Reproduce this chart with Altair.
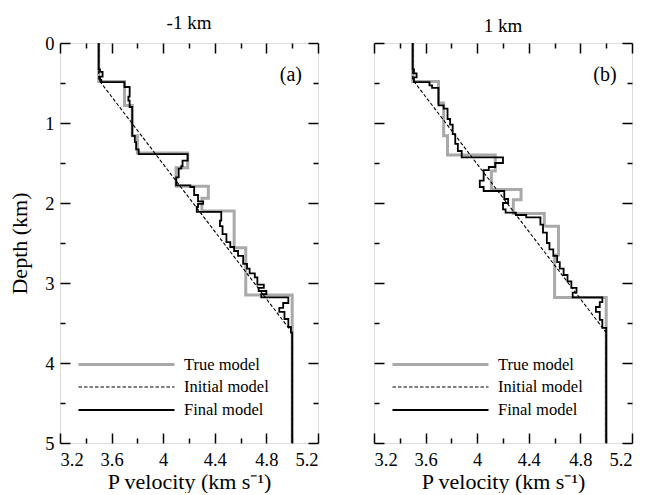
import altair as alt
import pandas as pd

TITLES = ["-1 km", "1 km"]
PANEL_LABELS = ["(a)", "(b)"]
MODELS = ["True model", "Initial model", "Final model"]

X_MAJOR = [3.2, 3.6, 4.0, 4.4, 4.8, 5.2]
X_MINOR = [3.4, 3.8, 4.2, 4.6, 5.0]
Y_MAJOR = [0, 1, 2, 3, 4, 5]
Y_MINOR = [0.5, 1.5, 2.5, 3.5, 4.5]

# True model (layer tops in km, velocity in km/s)
TRUE_A_TOP = [0.0, 0.48, 0.78, 1.16, 1.375, 1.56, 1.79, 1.94, 2.10, 2.56, 3.15]
TRUE_A_VEL = [3.50, 3.70, 3.76, 3.80, 4.19, 4.10, 4.35, 4.30, 4.55, 4.64, 5.00]
TRUE_B_TOP = [0.0, 0.48, 0.75, 1.16, 1.40, 1.60, 1.83, 1.96, 2.13, 2.29, 2.65, 3.18]
TRUE_B_VEL = [3.50, 3.70, 3.74, 3.77, 4.14, 4.11, 4.34, 4.28, 4.52, 4.63, 4.60, 5.00]

# Initial model (linear gradient)
INIT_DEPTH = [0.0, 0.46, 3.62, 5.0]
INIT_VEL = [3.50, 3.50, 5.00, 5.00]

# Final (inverted) model
FINAL_A_TOP = [0.00, 0.33, 0.36, 0.42, 0.46, 0.49, 0.55, 0.67, 0.72, 0.80, 1.16, 1.24,
               1.33, 1.39, 1.47, 1.54, 1.57, 1.68, 1.78, 1.80, 1.90, 1.98, 2.01, 2.05,
               2.11, 2.22, 2.29, 2.39, 2.49, 2.55, 2.60, 2.66, 2.76, 2.82, 2.88, 2.93,
               3.02, 3.06, 3.10, 3.14, 3.18, 3.25, 3.31, 3.36, 3.45, 3.55, 3.62]
FINAL_A_VEL = [3.50, 3.51, 3.53, 3.51, 3.52, 3.70, 3.74, 3.73, 3.74, 3.76, 3.78, 3.79,
               3.81, 4.19, 4.15, 4.14, 4.12, 4.10, 4.21, 4.24, 4.27, 4.31, 4.27, 4.26,
               4.45, 4.44, 4.46, 4.49, 4.52, 4.55, 4.58, 4.62, 4.65, 4.67, 4.71, 4.73,
               4.78, 4.74, 4.80, 4.76, 4.97, 4.93, 4.90, 4.94, 4.97, 4.99, 5.00]
FINAL_B_TOP = [0.00, 0.33, 0.38, 0.43, 0.49, 0.53, 0.56, 0.78, 0.82, 0.95, 1.02, 1.14,
               1.26, 1.35, 1.43, 1.50, 1.55, 1.59, 1.72, 1.80, 1.85, 1.95, 2.00, 2.08,
               2.12, 2.15, 2.18, 2.27, 2.37, 2.50, 2.58, 2.66, 2.74, 2.82, 2.90, 2.98,
               3.06, 3.12, 3.18, 3.24, 3.30, 3.36, 3.46, 3.56]
FINAL_B_VEL = [3.50, 3.51, 3.53, 3.51, 3.63, 3.65, 3.70, 3.74, 3.77, 3.79, 3.81, 3.83,
               3.85, 3.88, 4.20, 4.14, 4.09, 4.05, 4.02, 4.05, 4.21, 4.24, 4.20, 4.22,
               4.30, 4.38, 4.49, 4.51, 4.54, 4.56, 4.59, 4.62, 4.64, 4.67, 4.70, 4.73,
               4.77, 4.74, 4.97, 4.95, 4.92, 4.95, 4.97, 5.00]

FONT = "Liberation Serif, serif"


def step_frame(tops, vels, model, bottom=5.0):
    rows = []
    k = 0
    for i, (t, v) in enumerate(zip(tops, vels)):
        b = tops[i + 1] if i + 1 < len(tops) else bottom
        rows.append({"depth": t, "vel": v, "model": model, "k": k}); k += 1
        rows.append({"depth": b, "vel": v, "model": model, "k": k}); k += 1
    return pd.DataFrame(rows)


def line_frame(depths, vels, model):
    return pd.DataFrame({"depth": depths, "vel": vels, "model": model,
                         "k": list(range(len(depths)))})


X_SCALE = alt.Scale(domain=[3.2, 5.2], nice=False, zero=False)
Y_SCALE = alt.Scale(domain=[0, 5], reverse=True, nice=False, zero=False)


def make_axis(orient, values, major, labels, title=None):
    kw = dict(orient=orient, values=values,
              tickSize=alt.ExprRef(expr="-10" if major else "-5"),
              ticks=True, labels=labels, domain=False, grid=False,
              tickColor="black", tickWidth=1.5, title=title,
              labelFont=FONT, titleFont=FONT, labelFontSize=18.5, titleFontSize=22,
              titleFontWeight="normal", labelColor="black", titleColor="black")
    if labels:
        if orient in ("bottom", "top"):
            kw["format"] = ".1~f"
            kw["labelPadding"] = 17
            kw["titlePadding"] = 3
        else:
            kw["format"] = "d"
            kw["labelPadding"] = 16
            kw["titlePadding"] = 13
    return alt.Axis(**kw)


def panel(idx, true_df, final_df):
    left = idx == 0
    legend = alt.Legend(orient="none", legendX=55, legendY=310, title=None,
                        symbolType="M-5,0H5", symbolSize=369, labelOffset=46,
                        labelFontSize=16.5, labelFont=FONT, rowPadding=3.5, padding=0,
                        labelColor="black")
    color = alt.Color("model:N", scale=alt.Scale(domain=MODELS, range=["#a9a9a9", "black", "black"]),
                      legend=legend)
    dash = alt.StrokeDash("model:N", scale=alt.Scale(domain=MODELS, range=[[1, 0], [3.5, 2], [1, 0]]),
                          legend=legend)
    width = alt.StrokeWidth("model:N",
                            scale=alt.Scale(type="ordinal", domain=MODELS, range=[3.0, 1.1, 1.8]),
                            legend=legend)
    init_df = line_frame(INIT_DEPTH, INIT_VEL, MODELS[1])

    l_true = alt.Chart(true_df).mark_line(strokeCap="butt", strokeJoin="miter").encode(
        x=alt.X("vel:Q", scale=X_SCALE,
                axis=make_axis("bottom", X_MAJOR, True, True, "P velocity (km s\u207b\u00b9)")),
        y=alt.Y("depth:Q", scale=Y_SCALE,
                axis=make_axis("left", Y_MAJOR, True, left, "Depth (km)" if left else None)),
        order="k:Q", color=color, strokeDash=dash, strokeWidth=width,
    )
    l_init = alt.Chart(init_df).mark_line().encode(
        x=alt.X("vel:Q", scale=X_SCALE, axis=make_axis("bottom", X_MINOR, False, False)),
        y=alt.Y("depth:Q", scale=Y_SCALE, axis=make_axis("left", Y_MINOR, False, False)),
        order="k:Q", color=color, strokeDash=dash, strokeWidth=width,
    )
    l_final = alt.Chart(final_df).mark_line(strokeJoin="miter").encode(
        x=alt.X("vel:Q", scale=X_SCALE, axis=make_axis("top", X_MAJOR, True, False)),
        y=alt.Y("depth:Q", scale=Y_SCALE, axis=make_axis("right", Y_MAJOR, True, False)),
        order="k:Q", color=color, strokeDash=dash, strokeWidth=width,
    )
    l_text = alt.Chart(pd.DataFrame({"label": [PANEL_LABELS[idx]]})).mark_text(
        font=FONT, fontSize=20, align="center", baseline="middle", color="black"
    ).encode(
        x=alt.X(datum=4.99, type="quantitative", scale=X_SCALE,
                axis=make_axis("top", X_MINOR, False, False)),
        y=alt.Y(datum=0.40, type="quantitative", scale=Y_SCALE,
                axis=make_axis("right", Y_MINOR, False, False)),
        text="label:N",
    )
    return alt.layer(l_true, l_init, l_final, l_text).resolve_axis(
        x="independent", y="independent"
    ).properties(
        width=258, height=400,
        title=alt.Title(TITLES[idx], font=FONT, fontSize=19, fontWeight="normal",
                        color="black", offset=1),
    )


true_a = step_frame(TRUE_A_TOP, TRUE_A_VEL, MODELS[0])
true_b = step_frame(TRUE_B_TOP, TRUE_B_VEL, MODELS[0])
final_a = step_frame(FINAL_A_TOP, FINAL_A_VEL, MODELS[2])
final_b = step_frame(FINAL_B_TOP, FINAL_B_VEL, MODELS[2])

chart = alt.hconcat(
    panel(0, true_a, final_a), panel(1, true_b, final_b), spacing=52
).resolve_scale(
    color="independent", strokeDash="independent", strokeWidth="independent"
).properties(
    padding={"left": 0, "top": 5, "right": 5, "bottom": 0}
).configure_view(
    stroke="black", strokeWidth=1.5
).configure_legend(
    labelFont=FONT
).configure(
    font=FONT
)

chart.save("out.html", embed_options={"renderer": "svg", "actions": False})
